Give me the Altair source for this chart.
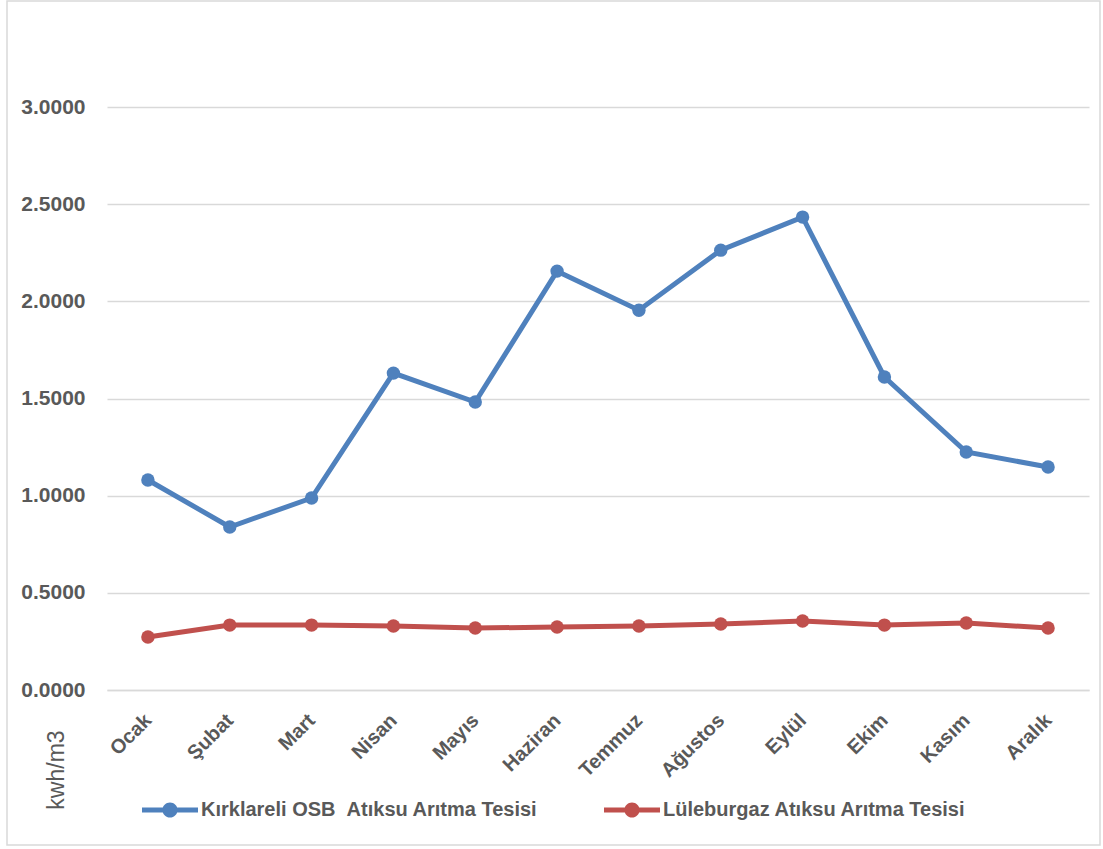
import altair as alt
import pandas as pd

months = ["Ocak", "Şubat", "Mart", "Nisan", "Mayıs", "Haziran", "Temmuz",
          "Ağustos", "Eylül", "Ekim", "Kasım", "Aralık"]
series_names = ["Kırklareli OSB \u00a0Atıksu Arıtma Tesisi", "Lüleburgaz Atıksu Arıtma Tesisi"]
kirklareli = [1.081, 0.839, 0.988, 1.631, 1.482, 2.156, 1.955, 2.264, 2.434, 1.611, 1.225, 1.148]
luleburgaz = [0.273, 0.334, 0.334, 0.329, 0.319, 0.324, 0.329, 0.340, 0.355, 0.334, 0.345, 0.319]
y_ticks = [0.0, 0.5, 1.0, 1.5, 2.0, 2.5, 3.0]
colors = ["#4F81BD", "#C0504D"]

rows = []
for name, vals in zip(series_names, [kirklareli, luleburgaz]):
    for m, v in zip(months, vals):
        rows.append({"month": m, "series": name, "value": v})
df = pd.DataFrame(rows)

W, H = 982, 680
FONT = "Liberation Sans, sans-serif"

legend_symbol = ("M-1,-0.09L1,-0.09L1,0.09L-1,0.09Z "
                 "M0.27,0A0.27,0.27,0,1,1,-0.27,0A0.27,0.27,0,1,1,0.27,0Z")

x_enc = alt.X("month:N", sort=months, scale=alt.Scale(paddingInner=0, paddingOuter=0.5),
              axis=alt.Axis(title=None, labelAngle=315, labelAlign="right", labelBaseline="middle",
                            labelPadding=27, ticks=False, domainColor="#d9d9d9", domainWidth=1.5,
                            labelFont=FONT, labelFontSize=20, labelFontWeight="bold",
                            labelColor="#595959", grid=False))
y_enc = alt.Y("value:Q", scale=alt.Scale(domain=[0, 3.5], nice=False),
              axis=alt.Axis(title=None, values=y_ticks, format=".4f", ticks=False, domain=False,
                            gridColor="#d9d9d9", gridWidth=1.5, labelPadding=22,
                            labelFont=FONT, labelFontSize=21, labelFontWeight="bold",
                            labelColor="#595959"))
color_enc = alt.Color("series:N", sort=series_names,
                      scale=alt.Scale(domain=series_names, range=colors),
                      legend=alt.Legend(title=None, orient="none", legendX=35, legendY=772,
                                        direction="horizontal", symbolType=legend_symbol,
                                        symbolSize=3136, symbolStrokeWidth=0,
                                        labelFont=FONT, labelFontSize=20,
                                        labelFontWeight="bold", labelColor="#595959",
                                        labelOffset=3, columnPadding=66, labelLimit=500))

base = alt.Chart(df)
lines = base.mark_line(strokeWidth=5).encode(x=x_enc, y=y_enc, color=color_enc)
points = base.mark_circle(size=180, opacity=1).encode(x=x_enc, y=y_enc, color=color_enc)

title_df = pd.DataFrame({"t": ["kwh/m3"]})
ytitle = alt.Chart(title_df).mark_text(angle=270, font=FONT, fontSize=23,
                                       color="#595959", align="center", baseline="middle").encode(
    text="t:N", x=alt.value(-50), y=alt.value(760))

border = alt.Chart(title_df).mark_rect(fill=None, stroke="#d9d9d9", strokeWidth=1.5).encode(
    x=alt.value(-100), x2=alt.value(993), y=alt.value(-9), y2=alt.value(835))

chart = alt.layer(border, lines, points, ytitle).properties(
    width=W, height=H,
    autosize=alt.AutoSizeParams(type="none"),
    padding={"left": 107, "top": 10, "right": 14, "bottom": 159},
    background="white",
).configure_view(stroke=None)

chart.save("out.html", embed_options={"renderer": "svg", "actions": False})
